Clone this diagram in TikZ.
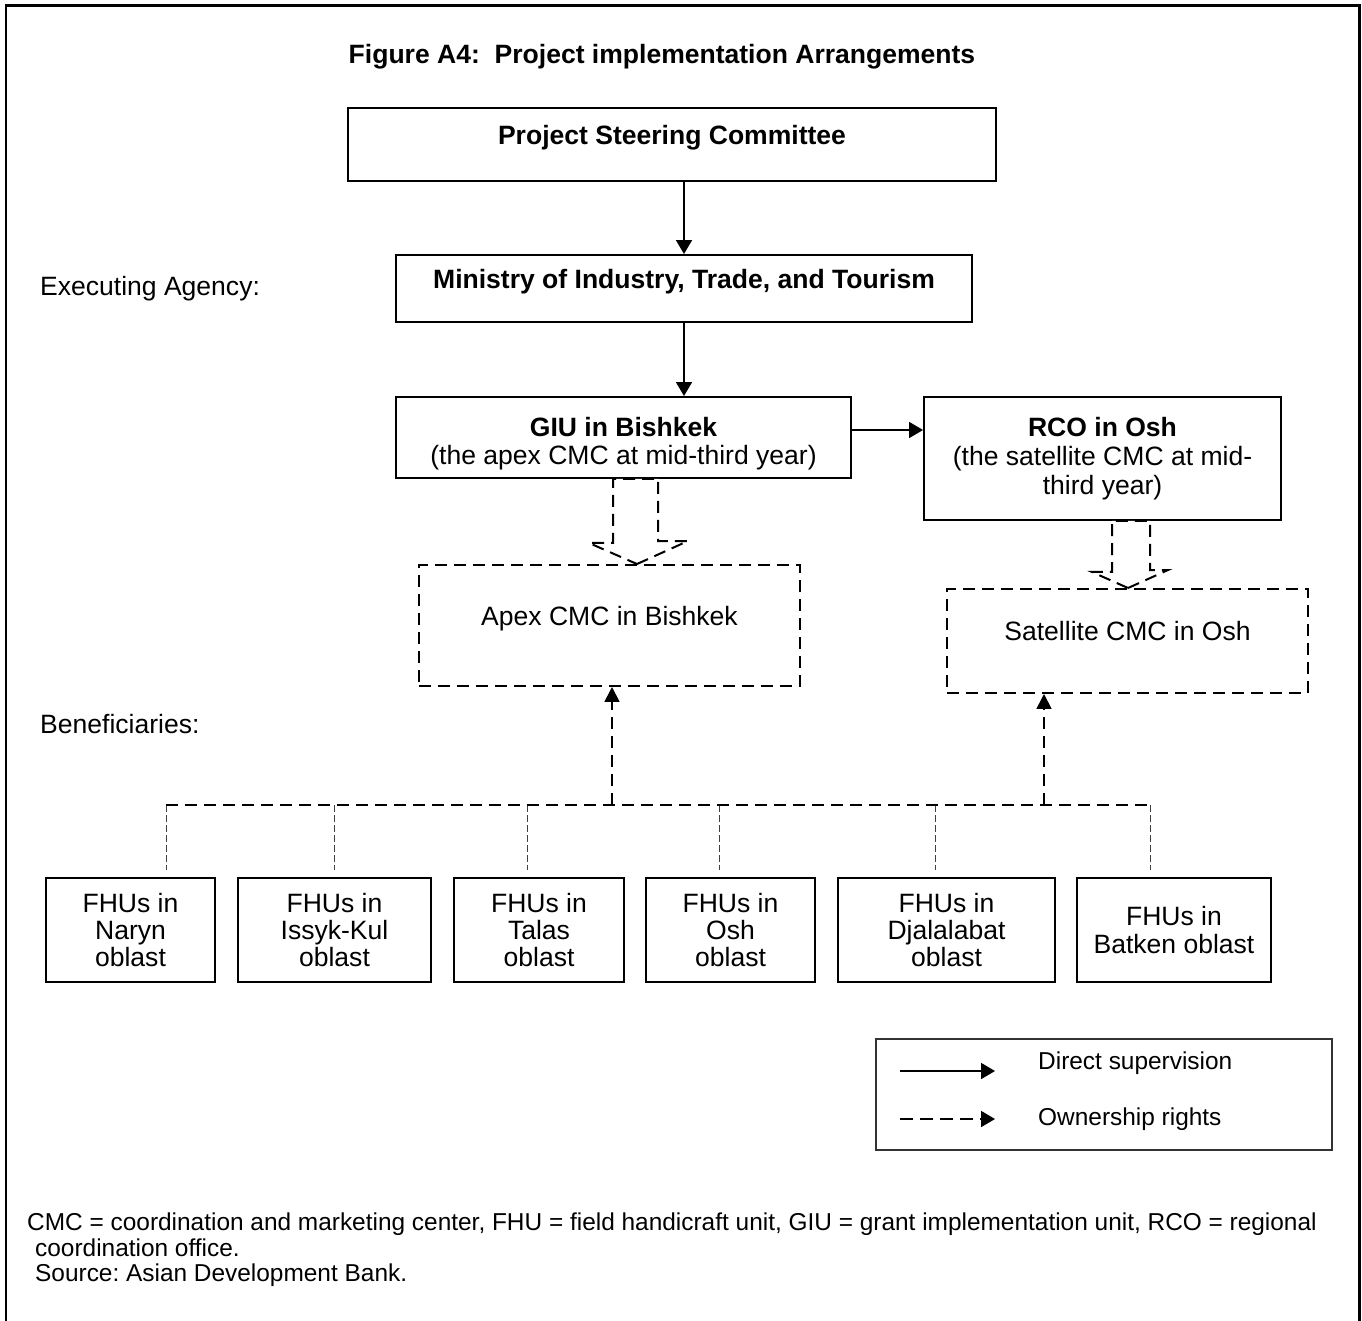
\documentclass[tikz,border=0pt]{standalone}
\usepackage{fontspec}
\setmainfont{Liberation Sans}
\usepackage{tikz}
\usetikzlibrary{arrows.meta}
\usetikzlibrary{calc}

\tikzset{
  hollow/.style={draw=black,fill=white,line width=0.04cm,dash pattern=on 0.24cm off 0.14cm},
  longdash/.style={line width=0.035cm,dash pattern=on 0.24cm off 0.14cm},
  thindash/.style={line width=0.02cm,black!75,dash pattern=on 0.14cm off 0.06cm},
}

\begin{document}
\begin{tikzpicture}[x=0.02cm,y=-0.02cm,font=\fontsize{15.1}{16.5}\selectfont]

      \useasboundingbox (0,0) rectangle (1362,1321);
      \draw[line width=0.06cm] (6,1321) -- (6,6) -- (1359,6) -- (1359,1321);

      \node (title) at (662,57) {\bfseries Figure A4:~~Project implementation Arrangements};
      \node[anchor=west] (exec) at (34,289) {Executing Agency:};
      \node[anchor=west] (benef) at (34,724) {Beneficiaries:};

      \begin{scope}[every node/.style={draw,line width=0.04cm,align=center,text depth=0.37cm}]
        \node[minimum width=12.96cm,minimum height=1.46cm] (psc) at (672,144.5) {\bfseries Project Steering Committee};
        \node[minimum width=11.52cm,minimum height=1.34cm] (min) at (684,288.5) {\bfseries Ministry of Industry, Trade, and Tourism};
      \end{scope}

      \begin{scope}[every node/.style={draw,line width=0.04cm,align=center}]
        \node[minimum width=9.1cm,minimum height=1.62cm,text height=1.21cm] (giu) at (623.5,437.5) {\textbf{GIU in Bishkek}\\(the apex CMC at mid-third year)};
        \node[minimum width=7.14cm,minimum height=2.46cm] (rco) at (1102.5,458.5) {\textbf{RCO in Osh}\\(the satellite CMC at mid-\\third year)};
      \end{scope}

      \begin{scope}[every node/.style={draw,line width=0.04cm,dash pattern=on 0.24cm off 0.14cm,text depth=0.39cm}]
        \node[minimum width=7.62cm,minimum height=2.42cm] (apex) at (609.5,625.5) {Apex CMC in Bishkek};
        \node[minimum width=7.22cm,minimum height=2.08cm] (sat) at (1127.5,641) {Satellite CMC in Osh};
      \end{scope}

      \begin{scope}[every node/.style={draw,line width=0.04cm,align=center,minimum height=2.08cm,font=\fontsize{15.1}{15.6}\selectfont}]
        \node[minimum width=3.38cm] (naryn) at (130.5,930) {FHUs in\\Naryn\\oblast};
        \node[minimum width=3.86cm] (issyk) at (334.5,930) {FHUs in\\Issyk-Kul\\oblast};
        \node[minimum width=3.4cm] (talas) at (539,930) {FHUs in\\Talas\\oblast};
        \node[minimum width=3.38cm] (osh) at (730.5,930) {FHUs in\\Osh\\oblast};
        \node[minimum width=4.34cm] (djal) at (946.5,930) {FHUs in\\Djalalabat\\oblast};
        \node[minimum width=3.88cm] (batken) at (1174,930) {FHUs in\\Batken oblast};
      \end{scope}

      % direct supervision
      \begin{scope}[>={Triangle[length=0.28cm,width=0.32cm]},
          every edge/.style={draw=black,line width=0.035cm}]
        \path [->] (psc.south -| min.north) edge (min.north);
        \path [->] (min.south) edge (min.south |- giu.north);
        \path [->] ([yshift=0.15cm]giu.east) edge ([yshift=0.15cm]giu.east -| rco.west);
      \end{scope}

      % hollow arrows into the CMCs
      \coordinate (gtip) at (apex.north -| 637,0);
      \coordinate (rtip) at (sat.north -| 1128,0);
      \draw[hollow] (gtip) -- ++(51,-23) -- ++(-30,0) coordinate (gr) -- (gr |- giu.south)
        -- ++(-45,0) -- ++(0,64) -- ++(-24,0) -- cycle;
      \draw[hollow] (rtip) -- ++(40,-18) -- ++(-18,0) coordinate (rr) -- (rr |- rco.south)
        -- ++(-38,0) -- ++(0,51) -- ++(-20,0) -- cycle;

      % ownership rights
      \foreach \i/\x in {1/166,2/334,3/527,4/719,5/935,6/1150} {
        \coordinate (t\i) at (\x,805);
        \coordinate (b\i) at (\x,870);
        \draw[thindash] (t\i) -- (b\i);
      }
      \draw[longdash] (t1) -- (t6);
      \coordinate (ua) at (612,805);
      \coordinate (ub) at (1044,805);
      \begin{scope}[>={Triangle[length=0.3cm,width=0.3cm]}]
        \draw[->,longdash] (ua) -- (ua |- apex.south);
        \draw[->,longdash] (ub) -- (ub |- sat.south);
      \end{scope}

      % legend
      \node[draw=black!80,line width=0.03cm,minimum width=9.12cm,minimum height=2.22cm] (legend) at (1104,1094.5) {};
      \coordinate (la) at (900,1071);
      \coordinate (lb) at (995,1071);
      \coordinate (lc) at (900,1119);
      \coordinate (ld) at (995,1119);
      \begin{scope}[>={Triangle[length=0.28cm,width=0.32cm]}]
        \draw[->,line width=0.035cm] (la) -- (lb);
        \draw[->,line width=0.035cm,dash pattern=on 0.26cm off 0.14cm] (lc) -- (ld);
      \end{scope}
      \begin{scope}[every node/.style={anchor=west,font=\fontsize{13.9}{14.2}\selectfont}]
        \node (lsup) at (1032,1063) {Direct supervision};
        \node (lown) at (1032,1119) {Ownership rights};
      \end{scope}

      \node[anchor=north west,align=left,font=\fontsize{13.9}{14.4}\selectfont] (note) at (21,1207)
        {CMC = coordination and marketing center, FHU = field handicraft unit, GIU = grant implementation unit, RCO = regional\\
         \hspace*{0.16cm}coordination office.\\
         \hspace*{0.16cm}Source:\ Asian Development Bank.};

\end{tikzpicture}
\end{document}
